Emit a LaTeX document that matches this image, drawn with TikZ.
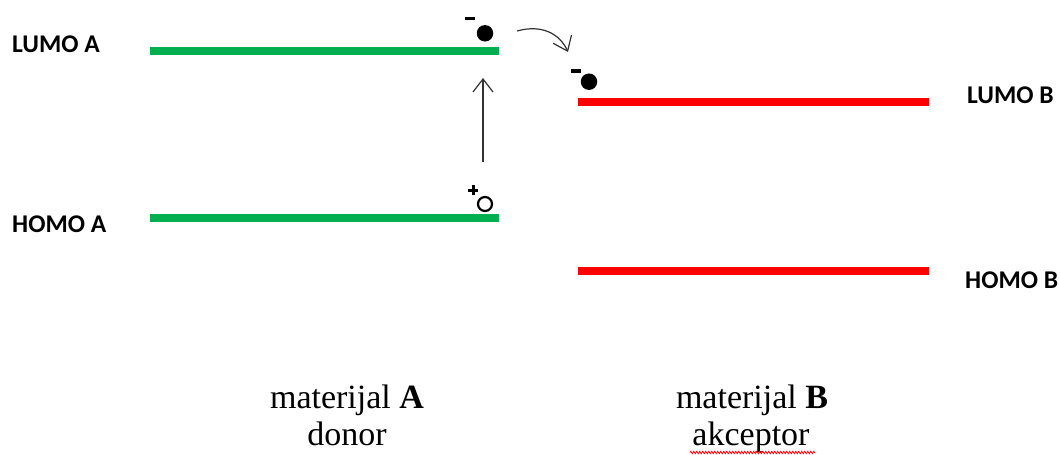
\documentclass[tikz,border=0pt]{standalone}
\usepackage{fontspec}
\setmainfont{Liberation Serif}
\newfontfamily\lblfont{Carlito}
\usetikzlibrary{arrows.meta,decorations.pathmorphing}
\definecolor{lvlgreen}{RGB}{0,176,80}
\definecolor{lvlred}{RGB}{255,0,0}
\definecolor{arrgray}{RGB}{50,50,50}
\tikzset{
  level/.style={line width=8pt},
  lvlA/.style={level,draw=lvlgreen},
  lvlB/.style={level,draw=lvlred},
  lbl/.style={font=\lblfont\bfseries\fontsize{25.5}{28}\selectfont,inner sep=0pt},
  mat/.style={font=\fontsize{34}{37}\selectfont,align=center,inner sep=0pt},
  thinarrow/.style={draw=arrgray,line width=1.2pt,-{Straight Barb[length=13pt,width=20pt,line width=1.2pt]}},
  electron/.style={circle,fill=black,inner sep=0pt,minimum size=16.5pt},
  hole/.style={circle,draw=black,line width=2.2pt,inner sep=0pt,minimum size=14pt},
  sign/.style={fill=black,draw=none},
}
\begin{document}
\begin{tikzpicture}[x=1pt,y=-1pt]
\useasboundingbox (0,0) rectangle (1060,455);
% levels
\coordinate (LAl) at (150,50.5); \coordinate (LAr) at (499,50.5);
\coordinate (HAl) at (150,217.5); \coordinate (HAr) at (499,217.5);
\coordinate (LBl) at (578,102); \coordinate (LBr) at (929,102);
\coordinate (HBl) at (578,271); \coordinate (HBr) at (929,271);
\draw[lvlA] (LAl) -- (LAr);
\draw[lvlA] (HAl) -- (HAr);
\draw[lvlB] (LBl) -- (LBr);
\draw[lvlB] (HBl) -- (HBr);
% labels
\node[lbl,anchor=base west] (tLA) at (12,52) {LUMO A};
\node[lbl,anchor=base west] (tHA) at (12,232) {HOMO A};
\node[lbl,anchor=base west] (tLB) at (967,103) {LUMO B};
\node[lbl,anchor=base west] (tHB) at (965,288) {HOMO B};
% electrons and hole
\node[electron] (e1) at (485,33.3) {};
\fill[sign] (464.5,16.5) rectangle (475,20);
\node[electron] (e2) at (589,81.7) {};
\fill[sign] (571,69) rectangle (581,72.5);
\node[hole] (h1) at (485,204) {};
\fill[sign] (468,188.5) rectangle (478,191.5);
\fill[sign] (471.5,185) rectangle (474.5,195);
% arrows
\coordinate (vA) at (483,162);
\coordinate (vB) at (483,78);
\draw[thinarrow] (vA) -- (vB);
\coordinate (cA) at (517,31);
\coordinate (cB) at (568,52);
\draw[thinarrow] (cA) .. controls (542,24) and (560,34) .. (cB);
% material labels
\node[mat,anchor=base] (mA) at (347,408) {materijal \textbf{A}};
\node[mat,anchor=base] (dA) at (347,445) {donor};
\node[mat,anchor=base] (mB) at (752,408) {materijal \textbf{B}};
\node[mat,anchor=base] (dB) at (751,445) {akceptor};
\draw[lvlred,line width=0.8pt,decorate,decoration={zigzag,amplitude=1.2pt,segment length=3pt}] (690,452.5) -- (815,452.5);
\end{tikzpicture}
\end{document}
